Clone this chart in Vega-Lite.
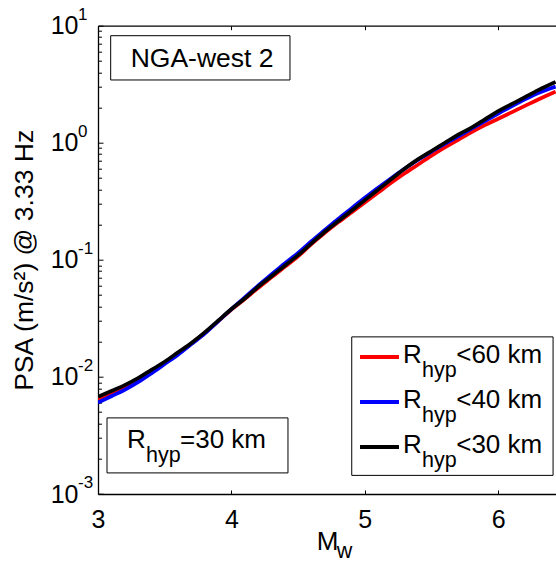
{
  "$schema": "https://vega.github.io/schema/vega-lite/v6.json",
  "width": 458,
  "height": 468.3,
  "autosize": "none",
  "padding": {"left": 98, "top": 25.7, "right": 0, "bottom": 71},
  "config": {"view": {"stroke": null}, "font": "Liberation Sans", "text": {"font": "Liberation Sans", "color": "black"}},
  "datasets": {
    "curves": [
      {"mw": 3.0, "psa": 0.00646, "series": "Rhyp<60 km"},
      {"mw": 3.1, "psa": 0.00724, "series": "Rhyp<60 km"},
      {"mw": 3.2, "psa": 0.00822, "series": "Rhyp<60 km"},
      {"mw": 3.3, "psa": 0.00944, "series": "Rhyp<60 km"},
      {"mw": 3.4, "psa": 0.01109, "series": "Rhyp<60 km"},
      {"mw": 3.5, "psa": 0.01318, "series": "Rhyp<60 km"},
      {"mw": 3.6, "psa": 0.01585, "series": "Rhyp<60 km"},
      {"mw": 3.7, "psa": 0.01928, "series": "Rhyp<60 km"},
      {"mw": 3.8, "psa": 0.02371, "series": "Rhyp<60 km"},
      {"mw": 3.9, "psa": 0.02985, "series": "Rhyp<60 km"},
      {"mw": 4.0, "psa": 0.03758, "series": "Rhyp<60 km"},
      {"mw": 4.1, "psa": 0.04624, "series": "Rhyp<60 km"},
      {"mw": 4.2, "psa": 0.05754, "series": "Rhyp<60 km"},
      {"mw": 4.3, "psa": 0.07079, "series": "Rhyp<60 km"},
      {"mw": 4.4, "psa": 0.0871, "series": "Rhyp<60 km"},
      {"mw": 4.5, "psa": 0.1072, "series": "Rhyp<60 km"},
      {"mw": 4.6, "psa": 0.1365, "series": "Rhyp<60 km"},
      {"mw": 4.7, "psa": 0.1698, "series": "Rhyp<60 km"},
      {"mw": 4.8, "psa": 0.2089, "series": "Rhyp<60 km"},
      {"mw": 4.9, "psa": 0.2541, "series": "Rhyp<60 km"},
      {"mw": 5.0, "psa": 0.309, "series": "Rhyp<60 km"},
      {"mw": 5.1, "psa": 0.3758, "series": "Rhyp<60 km"},
      {"mw": 5.2, "psa": 0.4571, "series": "Rhyp<60 km"},
      {"mw": 5.3, "psa": 0.5495, "series": "Rhyp<60 km"},
      {"mw": 5.4, "psa": 0.6531, "series": "Rhyp<60 km"},
      {"mw": 5.5, "psa": 0.7762, "series": "Rhyp<60 km"},
      {"mw": 5.6, "psa": 0.912, "series": "Rhyp<60 km"},
      {"mw": 5.7, "psa": 1.059, "series": "Rhyp<60 km"},
      {"mw": 5.8, "psa": 1.23, "series": "Rhyp<60 km"},
      {"mw": 5.9, "psa": 1.413, "series": "Rhyp<60 km"},
      {"mw": 6.0, "psa": 1.603, "series": "Rhyp<60 km"},
      {"mw": 6.1, "psa": 1.82, "series": "Rhyp<60 km"},
      {"mw": 6.2, "psa": 2.065, "series": "Rhyp<60 km"},
      {"mw": 6.3, "psa": 2.344, "series": "Rhyp<60 km"},
      {"mw": 6.43, "psa": 2.735, "series": "Rhyp<60 km"},
      {"mw": 3.0, "psa": 0.00603, "series": "Rhyp<40 km"},
      {"mw": 3.1, "psa": 0.00684, "series": "Rhyp<40 km"},
      {"mw": 3.2, "psa": 0.00776, "series": "Rhyp<40 km"},
      {"mw": 3.3, "psa": 0.00902, "series": "Rhyp<40 km"},
      {"mw": 3.4, "psa": 0.01072, "series": "Rhyp<40 km"},
      {"mw": 3.5, "psa": 0.01288, "series": "Rhyp<40 km"},
      {"mw": 3.6, "psa": 0.01549, "series": "Rhyp<40 km"},
      {"mw": 3.7, "psa": 0.01905, "series": "Rhyp<40 km"},
      {"mw": 3.8, "psa": 0.02344, "series": "Rhyp<40 km"},
      {"mw": 3.9, "psa": 0.02985, "series": "Rhyp<40 km"},
      {"mw": 4.0, "psa": 0.03802, "series": "Rhyp<40 km"},
      {"mw": 4.1, "psa": 0.04786, "series": "Rhyp<40 km"},
      {"mw": 4.2, "psa": 0.06026, "series": "Rhyp<40 km"},
      {"mw": 4.3, "psa": 0.07499, "series": "Rhyp<40 km"},
      {"mw": 4.4, "psa": 0.09333, "series": "Rhyp<40 km"},
      {"mw": 4.5, "psa": 0.1148, "series": "Rhyp<40 km"},
      {"mw": 4.6, "psa": 0.1445, "series": "Rhyp<40 km"},
      {"mw": 4.7, "psa": 0.1799, "series": "Rhyp<40 km"},
      {"mw": 4.8, "psa": 0.2239, "series": "Rhyp<40 km"},
      {"mw": 4.9, "psa": 0.2754, "series": "Rhyp<40 km"},
      {"mw": 5.0, "psa": 0.3388, "series": "Rhyp<40 km"},
      {"mw": 5.1, "psa": 0.4121, "series": "Rhyp<40 km"},
      {"mw": 5.2, "psa": 0.5012, "series": "Rhyp<40 km"},
      {"mw": 5.3, "psa": 0.6026, "series": "Rhyp<40 km"},
      {"mw": 5.4, "psa": 0.7161, "series": "Rhyp<40 km"},
      {"mw": 5.5, "psa": 0.8414, "series": "Rhyp<40 km"},
      {"mw": 5.6, "psa": 0.9772, "series": "Rhyp<40 km"},
      {"mw": 5.7, "psa": 1.135, "series": "Rhyp<40 km"},
      {"mw": 5.8, "psa": 1.318, "series": "Rhyp<40 km"},
      {"mw": 5.9, "psa": 1.531, "series": "Rhyp<40 km"},
      {"mw": 6.0, "psa": 1.778, "series": "Rhyp<40 km"},
      {"mw": 6.1, "psa": 2.042, "series": "Rhyp<40 km"},
      {"mw": 6.2, "psa": 2.344, "series": "Rhyp<40 km"},
      {"mw": 6.3, "psa": 2.661, "series": "Rhyp<40 km"},
      {"mw": 6.43, "psa": 3.02, "series": "Rhyp<40 km"},
      {"mw": 3.0, "psa": 0.00676, "series": "Rhyp<30 km"},
      {"mw": 3.1, "psa": 0.00759, "series": "Rhyp<30 km"},
      {"mw": 3.2, "psa": 0.00851, "series": "Rhyp<30 km"},
      {"mw": 3.3, "psa": 0.00977, "series": "Rhyp<30 km"},
      {"mw": 3.4, "psa": 0.01148, "series": "Rhyp<30 km"},
      {"mw": 3.5, "psa": 0.01349, "series": "Rhyp<30 km"},
      {"mw": 3.6, "psa": 0.01622, "series": "Rhyp<30 km"},
      {"mw": 3.7, "psa": 0.0195, "series": "Rhyp<30 km"},
      {"mw": 3.8, "psa": 0.02399, "series": "Rhyp<30 km"},
      {"mw": 3.9, "psa": 0.0302, "series": "Rhyp<30 km"},
      {"mw": 4.0, "psa": 0.03802, "series": "Rhyp<30 km"},
      {"mw": 4.1, "psa": 0.04677, "series": "Rhyp<30 km"},
      {"mw": 4.2, "psa": 0.05888, "series": "Rhyp<30 km"},
      {"mw": 4.3, "psa": 0.07244, "series": "Rhyp<30 km"},
      {"mw": 4.4, "psa": 0.08913, "series": "Rhyp<30 km"},
      {"mw": 4.5, "psa": 0.1096, "series": "Rhyp<30 km"},
      {"mw": 4.6, "psa": 0.138, "series": "Rhyp<30 km"},
      {"mw": 4.7, "psa": 0.1738, "series": "Rhyp<30 km"},
      {"mw": 4.8, "psa": 0.2138, "series": "Rhyp<30 km"},
      {"mw": 4.9, "psa": 0.263, "series": "Rhyp<30 km"},
      {"mw": 5.0, "psa": 0.3236, "series": "Rhyp<30 km"},
      {"mw": 5.1, "psa": 0.3981, "series": "Rhyp<30 km"},
      {"mw": 5.2, "psa": 0.4898, "series": "Rhyp<30 km"},
      {"mw": 5.3, "psa": 0.6026, "series": "Rhyp<30 km"},
      {"mw": 5.4, "psa": 0.7244, "series": "Rhyp<30 km"},
      {"mw": 5.5, "psa": 0.8511, "series": "Rhyp<30 km"},
      {"mw": 5.6, "psa": 1.0, "series": "Rhyp<30 km"},
      {"mw": 5.7, "psa": 1.175, "series": "Rhyp<30 km"},
      {"mw": 5.8, "psa": 1.349, "series": "Rhyp<30 km"},
      {"mw": 5.9, "psa": 1.585, "series": "Rhyp<30 km"},
      {"mw": 6.0, "psa": 1.862, "series": "Rhyp<30 km"},
      {"mw": 6.1, "psa": 2.138, "series": "Rhyp<30 km"},
      {"mw": 6.2, "psa": 2.455, "series": "Rhyp<30 km"},
      {"mw": 6.3, "psa": 2.818, "series": "Rhyp<30 km"},
      {"mw": 6.43, "psa": 3.311, "series": "Rhyp<30 km"}
    ],
    "exps": [
      {"v": 10, "e": "1"},
      {"v": 1, "e": "0"},
      {"v": 0.1, "e": "-1"},
      {"v": 0.01, "e": "-2"},
      {"v": 0.001, "e": "-3"}
    ]
  },
  "resolve": {"axis": {"x": "independent", "y": "independent"}},
  "layer": [
    {
      "data": {"name": "curves"},
      "mark": {"type": "line", "strokeWidth": 3.7, "clip": true, "interpolate": "monotone"},
      "encoding": {
        "x": {
          "field": "mw", "type": "quantitative",
          "scale": {"domain": [3, 6.433], "nice": false, "zero": false},
          "axis": {
            "orient": "bottom", "values": [3, 4, 5, 6], "tickSize": -4, "tickColor": "black", "tickWidth": 1,
            "domainColor": "black", "domainWidth": 1.3, "labelFontSize": 25, "labelColor": "black",
            "labelPadding": 17, "labelFlush": false, "labelOverlap": false, "grid": false,
            "title": "M", "titleFontSize": 26, "titleFontWeight": "normal", "titleColor": "black", "titlePadding": -4
          }
        },
        "y": {
          "field": "psa", "type": "quantitative",
          "scale": {"type": "log", "domain": [0.001, 10], "nice": false},
          "axis": {
            "orient": "left",
            "values": [0.001, 0.002, 0.003, 0.004, 0.005, 0.006, 0.007, 0.008, 0.009, 0.01, 0.02, 0.03, 0.04, 0.05, 0.06, 0.07, 0.08, 0.09, 0.1, 0.2, 0.3, 0.4, 0.5, 0.6, 0.7, 0.8, 0.9, 1, 2, 3, 4, 5, 6, 7, 8, 9, 10],
            "labelExpr": "abs(log(datum.value)/LN10 - round(log(datum.value)/LN10)) < 0.001 ? '10' : ''",
            "tickSize": {"condition": {"test": "abs(log(datum.value)/LN10 - round(log(datum.value)/LN10)) < 0.001", "value": -5}, "value": -3.5},
            "tickColor": "black", "tickWidth": 1, "domainColor": "black", "domainWidth": 1.3,
            "labelFontSize": 25, "labelColor": "black", "labelPadding": 25, "labelOverlap": false, "labelFlush": false, "grid": false,
            "title": "PSA (m/s²) @ 3.33 Hz", "titleFontSize": 26.5, "titleFontWeight": "normal", "titleColor": "black", "titlePadding": 12
          }
        },
        "color": {
          "field": "series", "type": "nominal",
          "scale": {"domain": ["Rhyp<60 km", "Rhyp<40 km", "Rhyp<30 km"], "range": ["#ff0000", "#0000ff", "#000000"]},
          "legend": null
        }
      }
    },
    {
      "data": {"name": "exps"},
      "mark": {"type": "text", "align": "left", "baseline": "middle", "dx": -20, "dy": -11, "fontSize": 17},
      "encoding": {
        "x": {"datum": 3, "axis": null},
        "y": {"field": "v", "type": "quantitative", "axis": null},
        "text": {"field": "e"}
      }
    },
    {
      "data": {"values": [{}]},
      "mark": {"type": "rect", "fill": "white", "stroke": "black", "strokeWidth": 1},
      "encoding": {
        "x": {"datum": 3.095, "axis": {"orient": "top", "values": [3, 4, 5, 6], "labels": false, "tickSize": -4, "tickColor": "black", "domainColor": "black", "domainWidth": 1.3, "title": null, "grid": false}},
        "x2": {"datum": 4.439},
        "y": {"datum": 8.216, "axis": null},
        "y2": {"datum": 3.439}
      }
    },
    {
      "data": {"values": [{}]},
      "mark": {"type": "text", "text": "NGA-west 2", "fontSize": 26.5, "align": "center", "baseline": "alphabetic"},
      "encoding": {"x": {"datum": 3.78, "axis": null}, "y": {"datum": 4.467, "axis": null}}
    },
    {
      "data": {"values": [{}]},
      "mark": {"type": "rect", "fill": "white", "stroke": "black", "strokeWidth": 1},
      "encoding": {"x": {"datum": 3.0675, "axis": null}, "x2": {"datum": 4.424}, "y": {"datum": 0.004467, "axis": null}, "y2": {"datum": 0.001514}}
    },
    {
      "data": {"values": [{}]},
      "mark": {"type": "text", "text": "R", "fontSize": 26, "align": "left", "baseline": "alphabetic"},
      "encoding": {"x": {"datum": 3.217, "axis": null}, "y": {"datum": 0.00246, "axis": null}}
    },
    {
      "data": {"values": [{}]},
      "mark": {"type": "text", "text": "hyp", "fontSize": 21.5, "align": "left", "baseline": "alphabetic"},
      "encoding": {"x": {"datum": 3.36, "axis": null}, "y": {"datum": 0.001888, "axis": null}}
    },
    {
      "data": {"values": [{}]},
      "mark": {"type": "text", "text": "=30 km", "fontSize": 26, "align": "left", "baseline": "alphabetic"},
      "encoding": {"x": {"datum": 3.615, "axis": null}, "y": {"datum": 0.00246, "axis": null}}
    },
    {
      "data": {"values": [{}]},
      "mark": {"type": "rect", "fill": "white", "stroke": "black", "strokeWidth": 1},
      "encoding": {"x": {"datum": 4.902, "axis": null}, "x2": {"datum": 6.411}, "y": {"datum": 0.02198, "axis": null}, "y2": {"datum": 0.001442}}
    },
    {
      "data": {"values": [{}]},
      "mark": {"type": "rule", "color": "#ff0000", "strokeWidth": 4},
      "encoding": {"x": {"datum": 4.964, "axis": null}, "x2": {"datum": 5.256}, "y": {"datum": 0.01483, "axis": null}}
    },
    {
      "data": {"values": [{}]},
      "mark": {"type": "rule", "color": "#0000ff", "strokeWidth": 4},
      "encoding": {"x": {"datum": 4.964, "axis": null}, "x2": {"datum": 5.256}, "y": {"datum": 0.006116, "axis": null}}
    },
    {
      "data": {"values": [{}]},
      "mark": {"type": "rule", "color": "#000000", "strokeWidth": 4},
      "encoding": {"x": {"datum": 4.964, "axis": null}, "x2": {"datum": 5.256}, "y": {"datum": 0.002524, "axis": null}}
    },
    {
      "data": {"values": [{}]},
      "mark": {"type": "text", "text": "R", "fontSize": 26, "align": "left", "baseline": "alphabetic"},
      "encoding": {"x": {"datum": 5.286, "axis": null}, "y": {"datum": 0.01309, "axis": null}}
    },
    {
      "data": {"values": [{}]},
      "mark": {"type": "text", "text": "hyp", "fontSize": 21.5, "align": "left", "baseline": "alphabetic"},
      "encoding": {"x": {"datum": 5.429, "axis": null}, "y": {"datum": 0.01004, "axis": null}}
    },
    {
      "data": {"values": [{}]},
      "mark": {"type": "text", "text": "<60 km", "fontSize": 26, "align": "left", "baseline": "alphabetic"},
      "encoding": {"x": {"datum": 5.685, "axis": null}, "y": {"datum": 0.01309, "axis": null}}
    },
    {
      "data": {"values": [{}]},
      "mark": {"type": "text", "text": "R", "fontSize": 26, "align": "left", "baseline": "alphabetic"},
      "encoding": {"x": {"datum": 5.286, "axis": null}, "y": {"datum": 0.005404, "axis": null}}
    },
    {
      "data": {"values": [{}]},
      "mark": {"type": "text", "text": "hyp", "fontSize": 21.5, "align": "left", "baseline": "alphabetic"},
      "encoding": {"x": {"datum": 5.429, "axis": null}, "y": {"datum": 0.004143, "axis": null}}
    },
    {
      "data": {"values": [{}]},
      "mark": {"type": "text", "text": "<40 km", "fontSize": 26, "align": "left", "baseline": "alphabetic"},
      "encoding": {"x": {"datum": 5.685, "axis": null}, "y": {"datum": 0.005404, "axis": null}}
    },
    {
      "data": {"values": [{}]},
      "mark": {"type": "text", "text": "R", "fontSize": 26, "align": "left", "baseline": "alphabetic"},
      "encoding": {"x": {"datum": 5.286, "axis": null}, "y": {"datum": 0.00223, "axis": null}}
    },
    {
      "data": {"values": [{}]},
      "mark": {"type": "text", "text": "hyp", "fontSize": 21.5, "align": "left", "baseline": "alphabetic"},
      "encoding": {"x": {"datum": 5.429, "axis": null}, "y": {"datum": 0.00171, "axis": null}}
    },
    {
      "data": {"values": [{}]},
      "mark": {"type": "text", "text": "<30 km", "fontSize": 26, "align": "left", "baseline": "alphabetic"},
      "encoding": {"x": {"datum": 5.685, "axis": null}, "y": {"datum": 0.00223, "axis": null}}
    },
    {
      "data": {"values": [{}]},
      "mark": {"type": "text", "text": "w", "fontSize": 21.5, "align": "left", "baseline": "alphabetic"},
      "encoding": {"x": {"datum": 4.79, "axis": null}, "y": {"datum": 0.000284, "axis": null}}
    }
  ]
}
